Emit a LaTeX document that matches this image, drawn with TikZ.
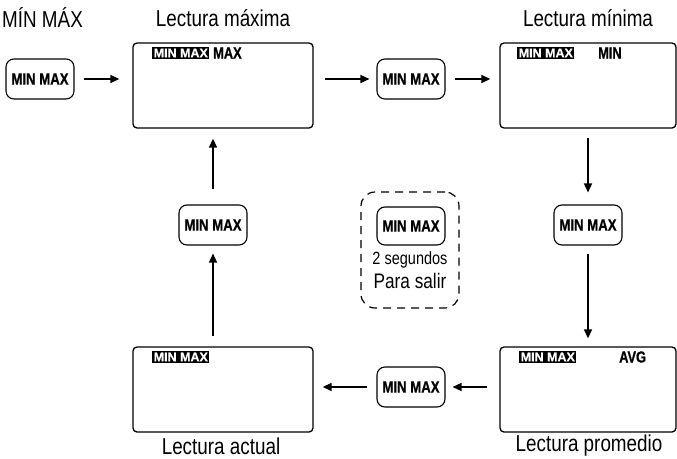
\documentclass[tikz,border=0pt]{standalone}
\usepackage{fontspec}
\setmainfont{Liberation Sans}[FakeStretch=0.82]
\newfontfamily\lcdfont{Liberation Sans}[FakeBold=0.6]
\newfontfamily\btnfont{Liberation Sans Bold}[FakeStretch=0.8, FakeBold=0.8]
\usetikzlibrary{arrows.meta}
\begin{document}
\begin{tikzpicture}[x=1pt,y=-1pt,
  screen/.style={draw, line width=1.3pt, rounded corners=4pt, minimum width=180pt, minimum height=85pt, inner sep=0pt},
  btn/.style={draw, line width=1.1pt, rounded corners=8pt, minimum width=68pt, minimum height=40pt, inner sep=0pt, font=\btnfont\fontsize{16.5}{16.5}\selectfont},
  flow/.style={-{Triangle[length=9pt,width=8pt]}, line width=1.5pt},
  title/.style={font=\fontsize{23}{23}\selectfont, inner sep=0pt},
  tag/.style={fill=black, text=white, inner sep=1.5pt, font=\lcdfont\fontsize{12.5}{12.5}\selectfont\bfseries, anchor=west},
  mode/.style={font=\btnfont\fontsize{16}{16}\selectfont, inner sep=0pt, anchor=west},
  exitbox/.style={draw, dash pattern=on 8pt off 6pt, rounded corners=14pt, line width=1.2pt, minimum width=98pt, minimum height=116pt, inner sep=0pt}
]
\useasboundingbox (0,0) rectangle (677,458);

% titles
\node[title, anchor=west] (t0) at (2,18) {MÍN MÁX};
\node[title] (t1) at (223,18) {Lectura máxima};
\node[title] (t2) at (588,18) {Lectura mínima};
\node[title] (t3) at (221,446) {Lectura actual};
\node[title] (t4) at (589,446) {Lectura promedio};

% screens
\node[screen] (smax) at (223,85.5) {};
\node[screen, minimum width=176pt] (smin) at (588,85.5) {};
\node[screen, minimum width=176pt] (savg) at (588,389.5) {};
\node[screen] (sact) at (223,389.5) {};

% screen contents
\node[tag] (g1) at (152,53) {MIN MAX};
\node[mode] (m1) at (213,53) {MAX};
\node[tag] (g2) at (517,53) {MIN MAX};
\node[mode] (m2) at (598,53) {MIN};
\node[tag] (g3) at (519,357) {MIN MAX};
\node[mode] (m3) at (619,357) {AVG};
\node[tag] (g4) at (152,357) {MIN MAX};

% buttons
\node[btn] (b1) at (40,79) {MIN MAX};
\node[btn] (b2) at (411,79) {MIN MAX};
\node[btn] (b3) at (588,225) {MIN MAX};
\node[btn] (b4) at (411,387) {MIN MAX};
\node[btn] (b5) at (213,225) {MIN MAX};

% exit group
\node[exitbox] (exit) at (410,250) {};
\node[btn, minimum height=38pt] (b6) at (411,226) {MIN MAX};
\node[font=\fontsize{17.7}{17.7}\selectfont, inner sep=0pt] (secs) at (410,260) {2 segundos};
\node[font=\fontsize{21}{21}\selectfont, inner sep=0pt] (salir) at (410,281) {Para salir};

% arrows
\draw[flow, shorten <=9pt, shorten >=13pt] (b1.east) -- (b1.east -| smax.west);
\draw[flow, shorten <=11pt, shorten >=7pt] (b2.west -| smax.east) -- (b2.west);
\draw[flow, shorten <=9pt, shorten >=9pt] (b2.east) -- (b2.east -| smin.west);
\draw[flow, shorten <=9pt, shorten >=12pt] (smin.south -| b3.north) -- (b3.north);
\draw[flow, shorten <=8pt, shorten >=8pt] (b3.south) -- (b3.south |- savg.north);
\draw[flow, shorten <=12pt, shorten >=7pt] (b4.east -| savg.west) -- (b4.east);
\draw[flow, shorten <=9pt, shorten >=9pt] (b4.west) -- (b4.west -| sact.east);
\draw[flow, shorten <=10pt, shorten >=8pt] (sact.north -| b5.south) -- (b5.south);
\draw[flow, shorten <=15pt, shorten >=10pt] (b5.north) -- (b5.north |- smax.south);
\end{tikzpicture}
\end{document}
